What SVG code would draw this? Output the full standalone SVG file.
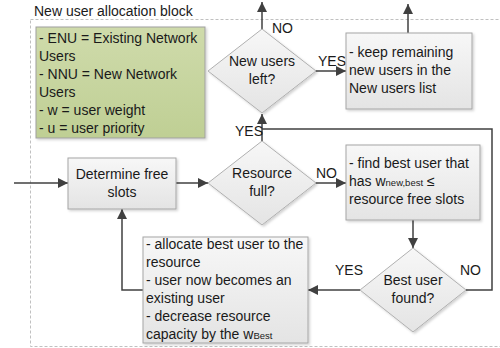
<svg xmlns="http://www.w3.org/2000/svg" width="500" height="348" viewBox="0 0 500 348">
<defs>
<linearGradient id="gGray" x1="0" y1="0" x2="0" y2="1">
<stop offset="0" stop-color="#f7f7f7"/>
<stop offset="1" stop-color="#e4e4e4"/>
</linearGradient>
<linearGradient id="gGreen" x1="0" y1="0" x2="0" y2="1">
<stop offset="0" stop-color="#cfdbab"/>
<stop offset="1" stop-color="#bfcf94"/>
</linearGradient>
<marker id="arr" viewBox="0 0 10 10" refX="10" refY="5" markerWidth="10" markerHeight="10" markerUnits="userSpaceOnUse" orient="auto">
<path d="M0,0 L10,5 L0,10 Z" fill="#404040"/>
</marker>
<filter id="sh" x="-10%" y="-10%" width="125%" height="125%">
<feDropShadow dx="1.5" dy="1.5" stdDeviation="1" flood-color="#000" flood-opacity="0.18"/>
</filter>
</defs>
<style>
text{font-family:"Liberation Sans",Arial,sans-serif;font-size:14px;fill:#1a1a1a}
.box{fill:url(#gGray);stroke:#a6a6a6;stroke-width:1;filter:url(#sh)}
.dia{fill:url(#gGray);stroke:#b0b0b0;stroke-width:1;filter:url(#sh)}
.green{fill:url(#gGreen);stroke:#a0a0a0;stroke-width:1;filter:url(#sh)}
.c{text-anchor:middle}
.con{fill:none;stroke:#404040;stroke-width:1.5}
.sub{font-size:9.5px}
</style>
<rect width="500" height="348" fill="#ffffff"/>
<g id="block">
<rect x="30.5" y="19.5" width="480" height="327" fill="none" stroke="#c0c0c0" stroke-width="1" stroke-dasharray="3,2"/>
<text x="34" y="16">New user allocation block</text>
</g>
<g id="legend">
<rect class="green" x="36" y="27" width="169" height="111"/>
<text x="39" y="43">- ENU = Existing Network</text>
<text x="39" y="61">Users</text>
<text x="39" y="79">- NNU = New Network</text>
<text x="39" y="97">Users</text>
<text x="39" y="115">- w = user weight</text>
<text x="39" y="133">- u = user priority</text>
</g>
<g id="connectors">
<line class="con" x1="262" y1="30" x2="262" y2="2" marker-end="url(#arr)"/>
<line class="con" x1="408" y1="33" x2="408" y2="4" marker-end="url(#arr)"/>
<line class="con" x1="313" y1="71" x2="346" y2="71" marker-end="url(#arr)"/>
<line class="con" x1="14" y1="183" x2="68" y2="183" marker-end="url(#arr)"/>
<line class="con" x1="176" y1="183" x2="208" y2="183" marker-end="url(#arr)"/>
<line class="con" x1="313" y1="183" x2="346" y2="183" marker-end="url(#arr)"/>
<line class="con" x1="262" y1="141" x2="262" y2="114" marker-end="url(#arr)"/>
<polyline class="con" points="466,290 492,290 492,129 262,129"/>
<line class="con" x1="413" y1="220" x2="413" y2="248" marker-end="url(#arr)"/>
<line class="con" x1="360" y1="290" x2="308" y2="290" marker-end="url(#arr)"/>
<polyline class="con" points="143,290 122,290 122,209" marker-end="url(#arr)"/>
<text x="272" y="33">NO</text>
<text x="318" y="66">YES</text>
<text x="235" y="136">YES</text>
<text x="316" y="178">NO</text>
<text x="335" y="275">YES</text>
<text x="460" y="275">NO</text>
</g>
<g id="newUsersLeft">
<polygon class="dia" points="262,29 316,71 262,113 208,71"/>
<text class="c" x="262" y="66">New users</text>
<text class="c" x="262" y="84">left?</text>
</g>
<g id="keepRemaining">
<rect class="box" x="346" y="33" width="126" height="76"/>
<text x="349" y="57">- keep remaining</text>
<text x="349" y="75">new users in the</text>
<text x="349" y="93">New users list</text>
</g>
<g id="determineFreeSlots">
<rect class="box" x="68" y="158" width="108" height="51"/>
<text class="c" x="122" y="179">Determine free</text>
<text class="c" x="122" y="197">slots</text>
</g>
<g id="resourceFull">
<polygon class="dia" points="262,141 316,183 262,225 208,183"/>
<text class="c" x="262" y="178">Resource</text>
<text class="c" x="262" y="196">full?</text>
</g>
<g id="findBestUser">
<rect class="box" x="346" y="145" width="134" height="75"/>
<text x="349" y="168">- find best user that</text>
<text x="349" y="186">has w<tspan class="sub">new,best</tspan> ≤</text>
<text x="349" y="204">resource free slots</text>
</g>
<g id="bestUserFound">
<polygon class="dia" points="413,248 466,290 413,332 360,290"/>
<text class="c" x="413" y="285">Best user</text>
<text class="c" x="413" y="303">found?</text>
</g>
<g id="allocate">
<rect class="box" x="143" y="237" width="165" height="106"/>
<text x="146" y="249">- allocate best user to the</text>
<text x="146" y="267">resource</text>
<text x="146" y="285">- user now becomes an</text>
<text x="146" y="303">existing user</text>
<text x="146" y="321">- decrease resource</text>
<text x="146" y="339">capacity by the w<tspan class="sub">Best</tspan></text>
</g>
</svg>
